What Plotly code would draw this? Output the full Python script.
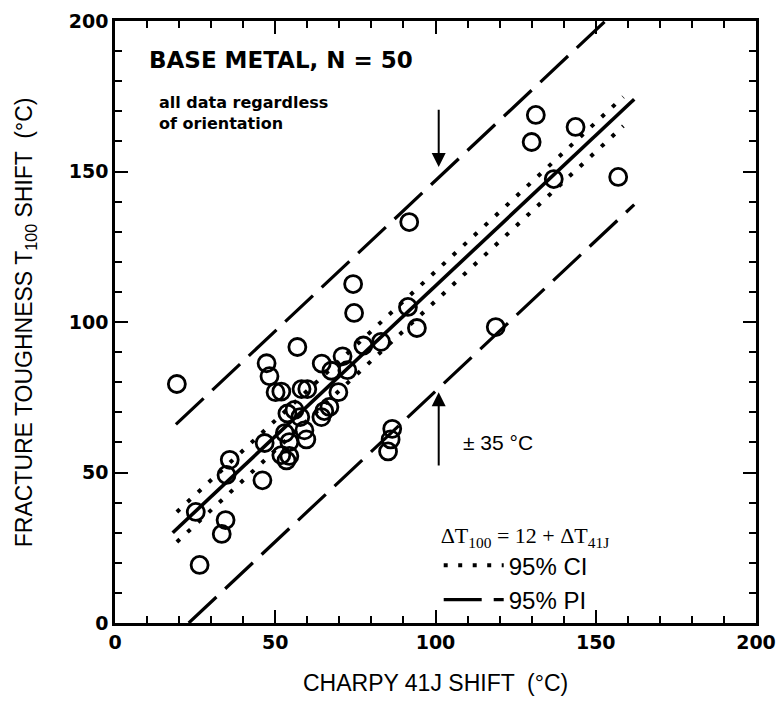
import plotly.graph_objects as go

# Charpy 41J shift (x) vs fracture toughness T100 shift (y), base metal, degC
charpy_shift = [19.3, 25.2, 26.4, 33.3, 34.5, 34.8, 35.8, 46.0, 46.7, 47.3,
                48.2, 50.1, 51.9, 56.9, 58.2, 60.0, 51.9, 53.5, 54.4, 53.0,
                54.4, 53.8, 56.0, 57.8, 59.1, 59.7, 64.4, 65.3, 66.9, 69.7,
                64.5, 67.5, 71.0, 72.5, 74.3, 74.6, 77.5, 83.0, 86.5, 86.0,
                85.2, 91.4, 91.8, 94.2, 118.8, 130.0, 131.3, 136.9, 143.7, 157.0]
toughness_shift = [79.4, 36.9, 19.3, 29.6, 34.2, 49.2, 54.2, 47.4, 59.8, 86.3,
                   82.0, 76.7, 76.9, 91.7, 77.7, 77.7, 55.8, 54.0, 55.5, 63.1,
                   60.1, 69.6, 70.8, 68.4, 64.0, 61.0, 68.4, 70.4, 71.8, 76.7,
                   86.2, 83.8, 88.6, 84.0, 112.6, 103.0, 92.2, 93.4, 64.5, 61.0,
                   57.0, 105.0, 133.2, 98.0, 98.3, 159.8, 168.8, 147.5, 164.8, 148.2]

# Regression: dT100 = 12 + dT41J, prediction band +/- 35 degC
fit_intercept = 12
pi_half_width = 35
fit_x = [18, 162]
pi_upper_x = [19, 153]
pi_lower_x = [23, 162]

# 95% confidence band end points
ci_x = [19.3, 158.6]
ci_upper = [36.9, 174.8]
ci_lower = [26.9, 165.1]

major_ticks = [0, 50, 100, 150, 200]
minor_ticks = [0, 10, 20, 30, 40, 50, 60, 70, 80, 90, 100,
               110, 120, 130, 140, 150, 160, 170, 180, 190, 200]

fig = go.Figure()

fig.add_trace(go.Scatter(
    x=ci_x + [None] + ci_x, y=ci_upper + [None] + ci_lower,
    mode="lines", name="95% CI",
    line=dict(color="black", width=4, dash="4px,10.5px"),
))
fig.add_trace(go.Scatter(
    x=pi_upper_x + [None] + pi_lower_x,
    y=[fit_intercept + pi_half_width + v for v in pi_upper_x] + [None]
      + [fit_intercept - pi_half_width + v for v in pi_lower_x],
    mode="lines", name="95% PI",
    line=dict(color="black", width=3.2, dash="38px,12px"),
))
fig.add_trace(go.Scatter(
    x=charpy_shift, y=toughness_shift, mode="markers", showlegend=False,
    marker=dict(symbol="circle-open", size=17, color="black",
                line=dict(width=2.8, color="black")),
))
# fitted line sits on the overlay axes that carry the 10-degree ticks
fig.add_trace(go.Scatter(
    x=fit_x, y=[fit_intercept + v for v in fit_x],
    mode="lines", showlegend=False, xaxis="x2", yaxis="y2",
    line=dict(color="black", width=3.6),
))

label_font = dict(family="DejaVu Sans", size=19, color="black", weight="bold")
base = dict(range=[0, 200], showgrid=False, zeroline=False, automargin=False,
            tickmode="array", tickcolor="black", layer="above traces",
            mirror="allticks", ticks="inside", tickwidth=2)
major_axis = dict(tickvals=major_ticks, ticklen=13, tickfont=label_font,
                  showline=True, linecolor="black", linewidth=2.6, **base)
minor_axis = dict(tickvals=minor_ticks, ticklen=7, showticklabels=False,
                  showline=False, **base)

fig.update_layout(
    xaxis=major_axis,
    yaxis=major_axis,
    xaxis2=dict(overlaying="x", matches="x", side="bottom", anchor="y2", **minor_axis),
    yaxis2=dict(overlaying="y", matches="y", side="left", anchor="x2", **minor_axis),
)

annotations = [
    dict(x=0.5, y=-0.1, xref="paper", yref="paper", xanchor="center", yanchor="middle",
         text="CHARPY 41J SHIFT  (°C)", showarrow=False,
         font=dict(family="Liberation Sans", size=23, color="black")),
    dict(x=-0.14, y=0.5, xref="paper", yref="paper", xanchor="center", yanchor="middle",
         text="FRACTURE TOUGHNESS T<sub>100</sub> SHIFT  (°C)", textangle=-90, showarrow=False,
         font=dict(family="Liberation Sans", size=23, color="black")),
    dict(x=10, y=187, xref="x", yref="y", xanchor="left", yanchor="middle",
         text="BASE METAL, N = 50", showarrow=False,
         font=dict(family="DejaVu Sans", size=23, color="black", weight="bold")),
    dict(x=13, y=169.5, xref="x", yref="y", xanchor="left", yanchor="middle",
         text="all data regardless<br>of orientation", showarrow=False, align="left",
         font=dict(family="DejaVu Sans", size=16, color="black", weight="bold")),
    dict(x=108, y=60, xref="x", yref="y", xanchor="left", yanchor="middle",
         text="± 35 °C", showarrow=False,
         font=dict(family="Liberation Sans", size=21, color="black")),
    # arrows marking the prediction band half-width
    dict(x=101, y=151.5, ax=101, ay=171, xref="x", yref="y", axref="x", ayref="y",
         text="", showarrow=True, arrowhead=2, arrowsize=1.4, arrowwidth=2,
         arrowcolor="black", standoff=0, startstandoff=0),
    dict(x=101, y=76.7, ax=101, ay=51.8, xref="x", yref="y", axref="x", ayref="y",
         text="", showarrow=True, arrowhead=2, arrowsize=1.4, arrowwidth=2,
         arrowcolor="black", standoff=0, startstandoff=0),
]

fig.update_layout(
    width=777, height=704,
    margin=dict(l=115, r=21, t=21, b=81),
    paper_bgcolor="white", plot_bgcolor="rgba(0,0,0,0)",
    annotations=annotations,
    legend=dict(
        x=0.505, y=0.18, xanchor="left", yanchor="top",
        bgcolor="rgba(0,0,0,0)", borderwidth=0, itemwidth=60,
        tracegroupgap=0,
        title=dict(text="ΔT<sub>100</sub> = 12 + ΔT<sub>41J</sub>", side="top",
                   font=dict(family="Liberation Serif", size=22, color="black")),
        font=dict(family="Liberation Sans", size=24, color="black"),
    ),
)

fig.write_html("out.html")
